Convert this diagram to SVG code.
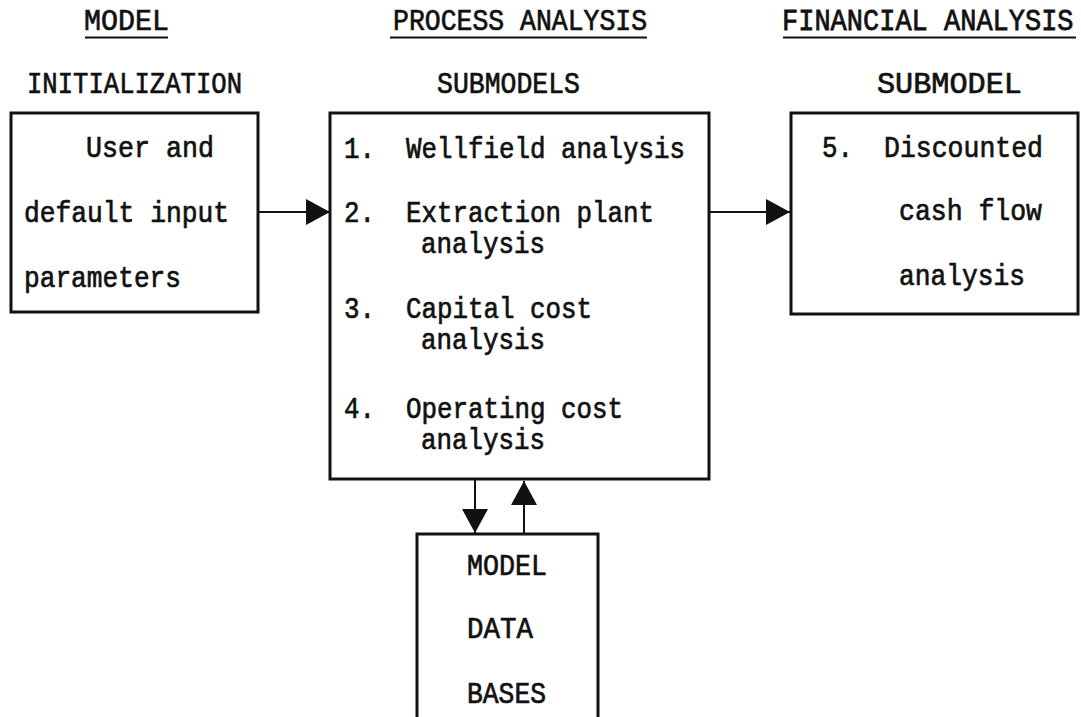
<svg xmlns="http://www.w3.org/2000/svg" width="1081" height="717" viewBox="0 0 1081 717">
<style>
  .t { font-family: "Liberation Mono", "Courier New", monospace; font-size: 30px; fill: #111; stroke: #111; stroke-width: 0.7; }
  .box { fill: none; stroke: #111; stroke-width: 3; }
  .ul { stroke: #111; stroke-width: 2; }
  .conn { stroke: #111; stroke-width: 2; fill: none; }
</style>
<defs>
  <marker id="arr" markerUnits="userSpaceOnUse" viewBox="0 0 24 26" refX="24" refY="13" markerWidth="24" markerHeight="26" orient="auto">
    <path d="M0,0 L24,13 L0,26 Z" fill="#111"/>
  </marker>
</defs>
<rect width="1081" height="717" fill="#fff"/>

<g id="headings">
  <text class="t" x="84" y="30" textLength="85" lengthAdjust="spacingAndGlyphs">MODEL</text>
  <line class="ul" x1="85" y1="37.5" x2="168" y2="37.5"/>
  <text class="t" x="27" y="93" textLength="215" lengthAdjust="spacingAndGlyphs">INITIALIZATION</text>
  <text class="t" x="393" y="30" textLength="254" lengthAdjust="spacingAndGlyphs">PROCESS ANALYSIS</text>
  <line class="ul" x1="390" y1="37.5" x2="647" y2="37.5"/>
  <text class="t" transform="translate(782,30) scale(1,1.11)" style="font-size:27px">FINANCIAL ANALYSIS</text>
  <line class="ul" x1="783" y1="37.5" x2="1076" y2="37.5"/>
  <text class="t" x="437" y="93" textLength="143" lengthAdjust="spacingAndGlyphs">SUBMODELS</text>
  <text class="t" x="877" y="93" textLength="145" lengthAdjust="spacingAndGlyphs">SUBMODEL</text>
</g>

<g id="node-init">
  <rect class="box" x="11" y="113" width="247" height="199"/>
  <text class="t" x="86" y="157" textLength="128" lengthAdjust="spacingAndGlyphs">User and</text>
  <text class="t" x="24" y="222" textLength="205" lengthAdjust="spacingAndGlyphs">default input</text>
  <text class="t" x="24" y="287" textLength="157" lengthAdjust="spacingAndGlyphs">parameters</text>
</g>

<g id="node-process">
  <rect class="box" x="330" y="113" width="379" height="366"/>
  <text class="t" x="344" y="158" textLength="31" lengthAdjust="spacingAndGlyphs">1.</text>
  <text class="t" x="406" y="158" textLength="279" lengthAdjust="spacingAndGlyphs">Wellfield analysis</text>
  <text class="t" x="344" y="222" textLength="31" lengthAdjust="spacingAndGlyphs">2.</text>
  <text class="t" x="406" y="222" textLength="248" lengthAdjust="spacingAndGlyphs">Extraction plant</text>
  <text class="t" x="421" y="253" textLength="124" lengthAdjust="spacingAndGlyphs">analysis</text>
  <text class="t" x="344" y="318" textLength="31" lengthAdjust="spacingAndGlyphs">3.</text>
  <text class="t" x="406" y="318" textLength="186" lengthAdjust="spacingAndGlyphs">Capital cost</text>
  <text class="t" x="421" y="349" textLength="124" lengthAdjust="spacingAndGlyphs">analysis</text>
  <text class="t" x="344" y="418" textLength="31" lengthAdjust="spacingAndGlyphs">4.</text>
  <text class="t" x="406" y="418" textLength="217" lengthAdjust="spacingAndGlyphs">Operating cost</text>
  <text class="t" x="421" y="449" textLength="124" lengthAdjust="spacingAndGlyphs">analysis</text>
</g>

<g id="node-financial">
  <rect class="box" x="791" y="113" width="287" height="201"/>
  <text class="t" x="822" y="157" textLength="31" lengthAdjust="spacingAndGlyphs">5.</text>
  <text class="t" x="884" y="157" textLength="159" lengthAdjust="spacingAndGlyphs">Discounted</text>
  <text class="t" x="899" y="220" textLength="143" lengthAdjust="spacingAndGlyphs">cash flow</text>
  <text class="t" x="899" y="285" textLength="126" lengthAdjust="spacingAndGlyphs">analysis</text>
</g>

<g id="node-database">
  <path class="box" d="M417,717 V534 H598 V717"/>
  <text class="t" x="467" y="575" textLength="80" lengthAdjust="spacingAndGlyphs">MODEL</text>
  <text class="t" x="467" y="638" textLength="66" lengthAdjust="spacingAndGlyphs">DATA</text>
  <text class="t" x="467" y="703" textLength="79" lengthAdjust="spacingAndGlyphs">BASES</text>
</g>

<g id="connectors">
  <line class="conn" x1="258" y1="212" x2="330" y2="212" marker-end="url(#arr)"/>
  <line class="conn" x1="709" y1="212" x2="790" y2="212" marker-end="url(#arr)"/>
  <line class="conn" x1="475" y1="479" x2="475" y2="533" marker-end="url(#arr)"/>
  <line class="conn" x1="524" y1="534" x2="524" y2="481" marker-end="url(#arr)"/>
</g>
</svg>
